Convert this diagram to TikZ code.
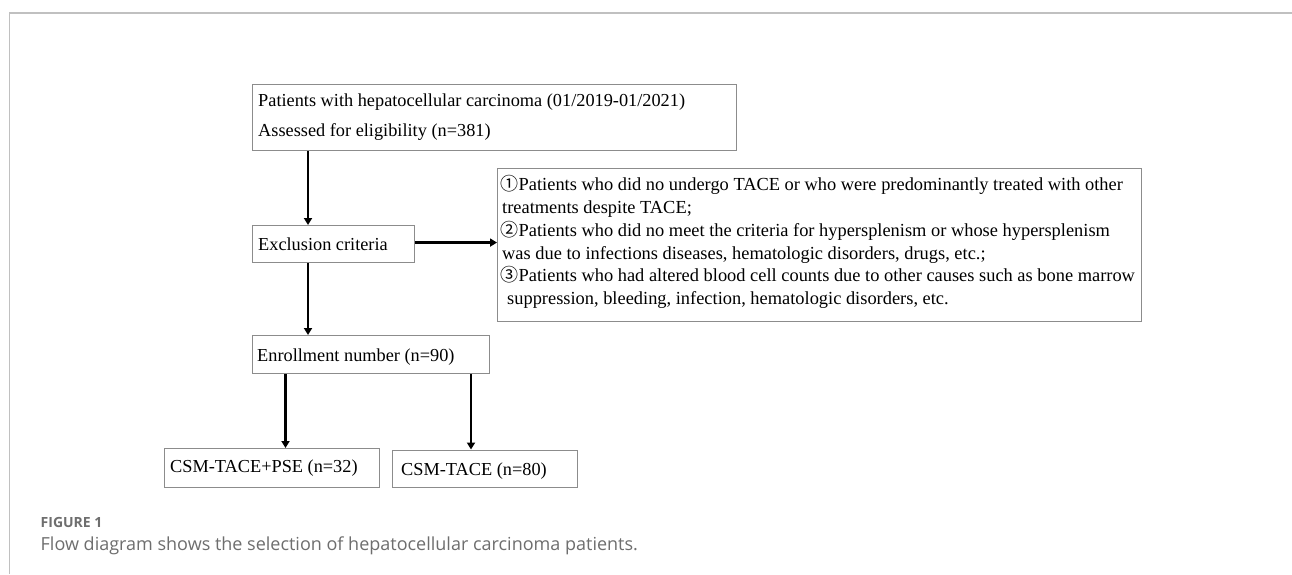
\documentclass[tikz,border=0pt]{standalone}
\usepackage{fontspec}
\setmainfont{Liberation Serif}
\newfontfamily\capfont{Open Sans}
\newfontfamily\symfont{Noto Sans CJK SC}
\usetikzlibrary{arrows.meta}
\newcommand{\cn}[1]{{\symfont\fontsize{18}{18}\selectfont #1}\kern0.5pt}
\definecolor{boxgray}{HTML}{8C8C8C}
\definecolor{framegray}{HTML}{C0C0C0}
\definecolor{capgray}{HTML}{6E6E6E}
\tikzset{
  x=1pt, y=-1pt,
  box/.style={draw=boxgray, line width=1.1pt, anchor=north west, inner sep=0pt},
  txt/.style={anchor=base west, inner sep=0pt, font=\fontsize{18.3}{20}\selectfont},
  ctxt/.style={anchor=base west, inner sep=0pt, font=\fontsize{18.4}{20}\selectfont},
  arr/.style={line width=2.8pt, -{Triangle[length=7pt,width=8pt]}},
}
\begin{document}
\begin{tikzpicture}
\useasboundingbox (0,0) rectangle (1292,574);
\fill[white] (0,0) rectangle (1292,574);
\draw[framegray, line width=1.2pt] (9.5,574) -- (9.5,13) -- (1292,13);

\node[box, minimum width=484pt, minimum height=66pt] (top) at (252,84) {};
\node[txt] (t1) at (258,106) {Patients with hepatocellular carcinoma (01/2019-01/2021)};
\node[txt] (t2) at (258,136) {Assessed for eligibility (n=381)};

\node[box, minimum width=162pt, minimum height=37pt] (excl) at (252,225) {};
\node[txt] (et) at (258,250) {Exclusion criteria};

\node[box, minimum width=644pt, minimum height=153pt] (crit) at (497,167.5) {};
\node[ctxt] (c1) at (500,190.5) {\cn{①}Patients who did no undergo TACE or who were predominantly treated with other};
\node[ctxt] (c2) at (502,213.5) {treatments despite TACE;};
\node[ctxt] (c3) at (500,236.5) {\cn{②}Patients who did no meet the criteria for hypersplenism or whose hypersplenism};
\node[ctxt] (c4) at (502,259) {was due to infections diseases, hematologic disorders, drugs, etc.;};
\node[ctxt] (c5) at (500,281.5) {\cn{③}Patients who had altered blood cell counts due to other causes such as bone marrow};
\node[ctxt] (c6) at (507,304.5) {suppression, bleeding, infection, hematologic disorders, etc.};

\node[box, minimum width=237pt, minimum height=38pt] (enr) at (252,335) {};
\node[txt] (nt) at (257,361) {Enrollment number (n=90)};

\node[box, minimum width=215pt, minimum height=38.5pt] (g1) at (164,448) {};
\node[txt] (g1t) at (170,472) {CSM-TACE+PSE (n=32)};
\node[box, minimum width=185pt, minimum height=37.5pt] (g2) at (392,449.5) {};
\node[txt] (g2t) at (401,475) {CSM-TACE (n=80)};

\coordinate (ea) at ([yshift=1.5pt]excl.east);
\draw[arr] ([xshift=56pt]top.south west) -- ([xshift=56pt]excl.north west);
\draw[arr] (ea) -- (crit.west |- ea);
\draw[arr] ([xshift=56pt]excl.south west) -- ([xshift=56pt]enr.north west);
\draw[arr] ([xshift=33.5pt]enr.south west) -- ([xshift=121.5pt]g1.north west);
\draw[arr] ([xshift=219pt]enr.south west) -- ([xshift=79pt]g2.north west);

\node[anchor=base west, inner sep=0pt, text=capgray, font=\capfont\bfseries\fontsize{14}{16}\selectfont] (fig) at (40.5,527) {FIGURE 1};
\node[anchor=base west, inner sep=0pt, text=capgray, font=\capfont\fontsize{18}{20}\selectfont] (cap) at (40.5,550) {Flow diagram shows the selection of hepatocellular carcinoma patients.};
\end{tikzpicture}
\end{document}
